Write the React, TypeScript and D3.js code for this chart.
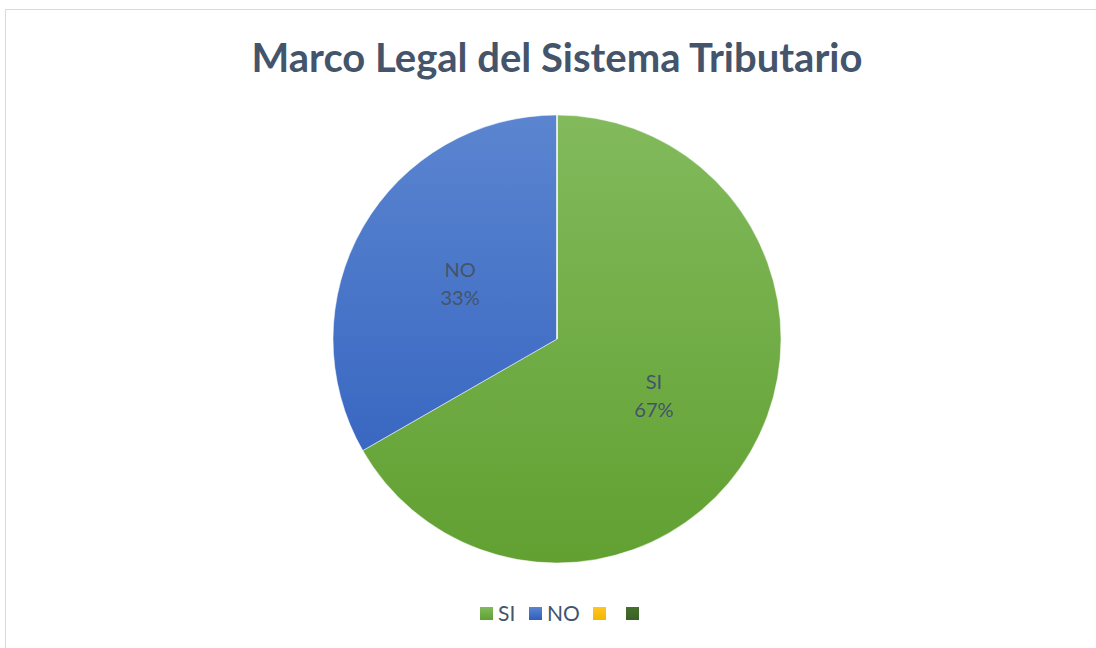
import * as d3 from "d3";
import React, { useRef, useEffect } from "react";

const categories = ["SI", "NO", "", ""];
const values = [66.7, 33.3, 0, 0];
const colorsTop = ["#82ba5c", "#5b85d0", "#ffc524", "#46702e"];
const colorsBottom = ["#61a031", "#2e5ebd", "#f2b800", "#3a6124"];

const W = 1096;
const H = 648;
const cx = 557;
const cy = 339;
const R = 224;

function PieChart() {
  const ref = useRef<SVGSVGElement>(null);

  useEffect(() => {
    const svg = d3.select(ref.current);
    svg.selectAll("*").remove();

    const defs = svg.append("defs");
    categories.forEach((c, i) => {
      const g = defs
        .append("linearGradient")
        .attr("id", "grad" + i)
        .attr("gradientUnits", "userSpaceOnUse")
        .attr("x1", 0)
        .attr("y1", -R)
        .attr("x2", 0)
        .attr("y2", R);
      g.append("stop").attr("offset", "0%").attr("stop-color", colorsTop[i]);
      g.append("stop").attr("offset", "100%").attr("stop-color", colorsBottom[i]);

      const lg = defs
        .append("linearGradient")
        .attr("id", "legGrad" + i)
        .attr("x1", 0)
        .attr("y1", 0)
        .attr("x2", 0)
        .attr("y2", 1);
      lg.append("stop").attr("offset", "0%").attr("stop-color", colorsTop[i]);
      lg.append("stop").attr("offset", "100%").attr("stop-color", colorsBottom[i]);
    });

    svg
      .append("rect")
      .attr("x", 5.5)
      .attr("y", 9.5)
      .attr("width", W + 20)
      .attr("height", H + 20)
      .attr("fill", "white")
      .attr("stroke", "#d9d9d9");

    svg
      .append("text")
      .attr("x", cx)
      .attr("y", 72)
      .attr("text-anchor", "middle")
      .attr("font-family", "Lato, 'Open Sans', sans-serif")
      .attr("font-weight", "bold")
      .attr("font-size", 40)
      .attr("fill", "#44546a")
      .text("Marco Legal del Sistema Tributario");

    const pie = d3
      .pie<number>()
      .sort(null)
      .value((d) => d);
    const arcs = pie(values);
    const arc = d3.arc<d3.PieArcDatum<number>>().innerRadius(0).outerRadius(R);

    const g = svg.append("g").attr("transform", `translate(${cx},${cy})`);
    g.selectAll("path")
      .data(arcs)
      .enter()
      .append("path")
      .attr("d", arc)
      .attr("fill", (d, i) => `url(#grad${i})`)
      .attr("stroke", "white")
      .attr("stroke-width", 0.5);

    const total = d3.sum(values);
    const labels = g
      .selectAll("text.lbl")
      .data(arcs.filter((d) => d.value > 0))
      .enter()
      .append("text")
      .attr("class", "lbl")
      .attr("transform", (d) => {
        const [x, y] = arc.centroid(d);
        return `translate(${x},${y})`;
      })
      .attr("text-anchor", "middle")
      .attr("font-family", "Lato, 'Open Sans', sans-serif")
      .attr("font-size", 20)
      .attr("fill", "#44546a");
    labels
      .append("tspan")
      .attr("x", 0)
      .attr("y", -6)
      .text((d) => categories[d.index]);
    labels
      .append("tspan")
      .attr("x", 0)
      .attr("y", 22)
      .text((d) => Math.round((d.value / total) * 100) + "%");

    // legend
    const legendX = [480, 529, 593, 626];
    const leg = svg.append("g");
    categories.forEach((c, i) => {
      leg
        .append("rect")
        .attr("x", legendX[i])
        .attr("y", 607)
        .attr("width", 13)
        .attr("height", 13)
        .attr("fill", `url(#legGrad${i})`);
      leg
        .append("text")
        .attr("x", legendX[i] + 18)
        .attr("y", 621)
        .attr("font-family", "Lato, 'Open Sans', sans-serif")
        .attr("font-size", 21)
        .attr("fill", "#44546a")
        .text(c);
    });
  }, []);

  return <svg ref={ref} width={W} height={H} style={{ display: "block" }} />;
}

export default function App() {
  return (
    <div style={{ position: "absolute", left: 0, top: 0 }}>
      <PieChart />
    </div>
  );
}
